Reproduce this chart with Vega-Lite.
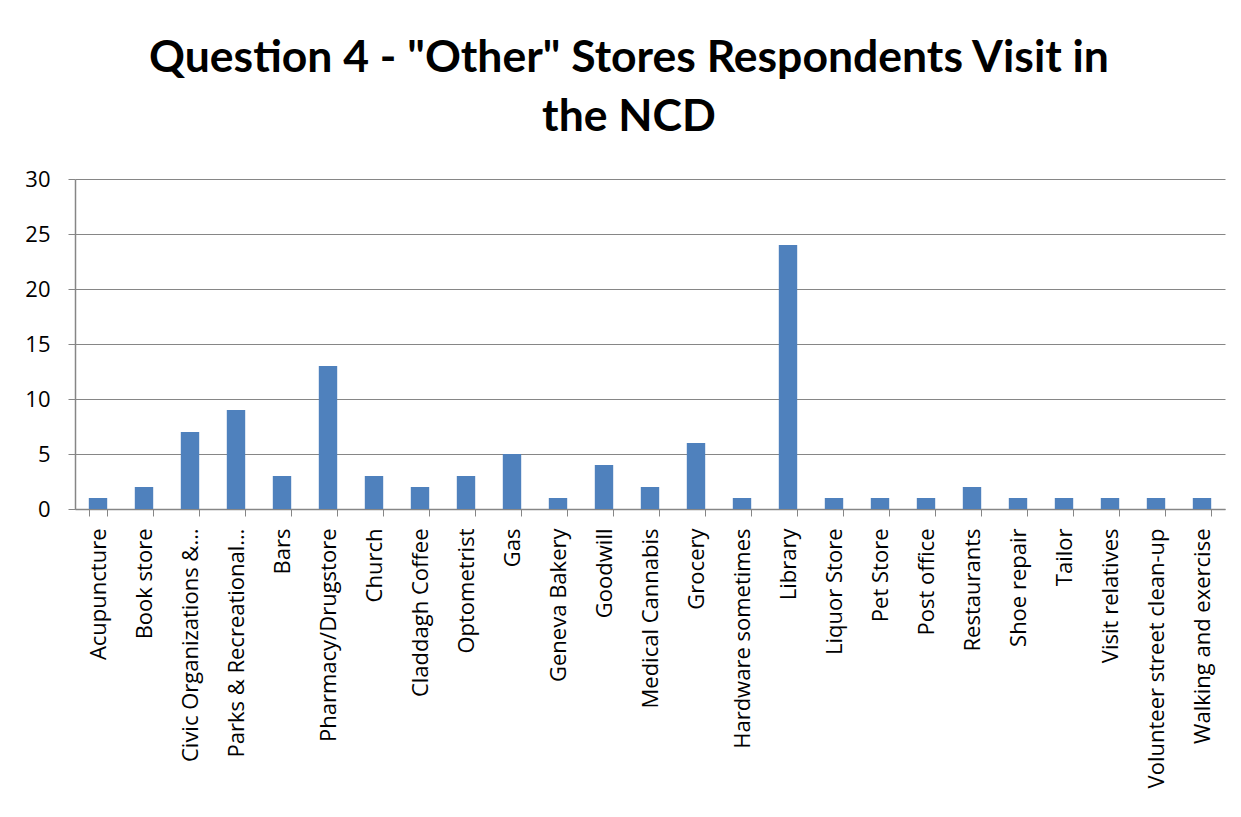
{
  "$schema": "https://vega.github.io/schema/vega-lite/v6.json",
  "width": 1150,
  "height": 330,
  "autosize": "none",
  "padding": {"left": 75, "top": 179, "right": 16, "bottom": 308},
  "background": "white",
  "title": {
    "text": ["Question 4 - \"Other\" Stores Respondents Visit in", "the NCD"],
    "font": "Lato",
    "fontSize": 44.5,
    "fontWeight": "bold",
    "color": "#000000",
    "anchor": "middle",
    "frame": "group",
    "lineHeight": 59,
    "dx": -21,
    "offset": 28
  },
  "data": {
    "values": [
      {"store": "Acupuncture", "count": 1},
      {"store": "Book store", "count": 2},
      {"store": "Civic Organizations &…", "count": 7},
      {"store": "Parks & Recreational…", "count": 9},
      {"store": "Bars", "count": 3},
      {"store": "Pharmacy/Drugstore", "count": 13},
      {"store": "Church", "count": 3},
      {"store": "Claddagh Coffee", "count": 2},
      {"store": "Optometrist", "count": 3},
      {"store": "Gas", "count": 5},
      {"store": "Geneva Bakery", "count": 1},
      {"store": "Goodwill", "count": 4},
      {"store": "Medical Cannabis", "count": 2},
      {"store": "Grocery", "count": 6},
      {"store": "Hardware sometimes", "count": 1},
      {"store": "Library", "count": 24},
      {"store": "Liquor Store", "count": 1},
      {"store": "Pet Store", "count": 1},
      {"store": "Post office", "count": 1},
      {"store": "Restaurants", "count": 2},
      {"store": "Shoe repair", "count": 1},
      {"store": "Tailor", "count": 1},
      {"store": "Visit relatives", "count": 1},
      {"store": "Volunteer street clean-up", "count": 1},
      {"store": "Walking and exercise", "count": 1}
    ]
  },
  "mark": {"type": "bar", "color": "#4F81BD"},
  "encoding": {
    "x": {
      "field": "store",
      "type": "nominal",
      "sort": null,
      "title": null,
      "scale": {"paddingInner": 0.6, "paddingOuter": 0.3},
      "axis": {
        "labelAngle": -90,
        "labelAlign": "right",
        "labelBaseline": "middle",
        "labelFont": "Open Sans",
        "labelFontSize": 22,
        "labelColor": "#000000",
        "labelPadding": 12,
        "labelLimit": 400,
        "tickBand": "extent",
        "tickSize": 7,
        "tickColor": "#868686",
        "domainColor": "#868686",
        "domainWidth": 1.5,
        "grid": false
      }
    },
    "y": {
      "field": "count",
      "type": "quantitative",
      "title": null,
      "scale": {"domain": [0, 30]},
      "axis": {
        "values": [0, 5, 10, 15, 20, 25, 30],
        "labelFont": "Open Sans",
        "labelFontSize": 22,
        "labelColor": "#000000",
        "labelPadding": 18,
        "tickSize": 7,
        "tickColor": "#868686",
        "domainColor": "#868686",
        "domainWidth": 1.5,
        "gridColor": "#868686",
        "gridWidth": 1
      }
    }
  },
  "config": {"view": {"stroke": null}}
}
